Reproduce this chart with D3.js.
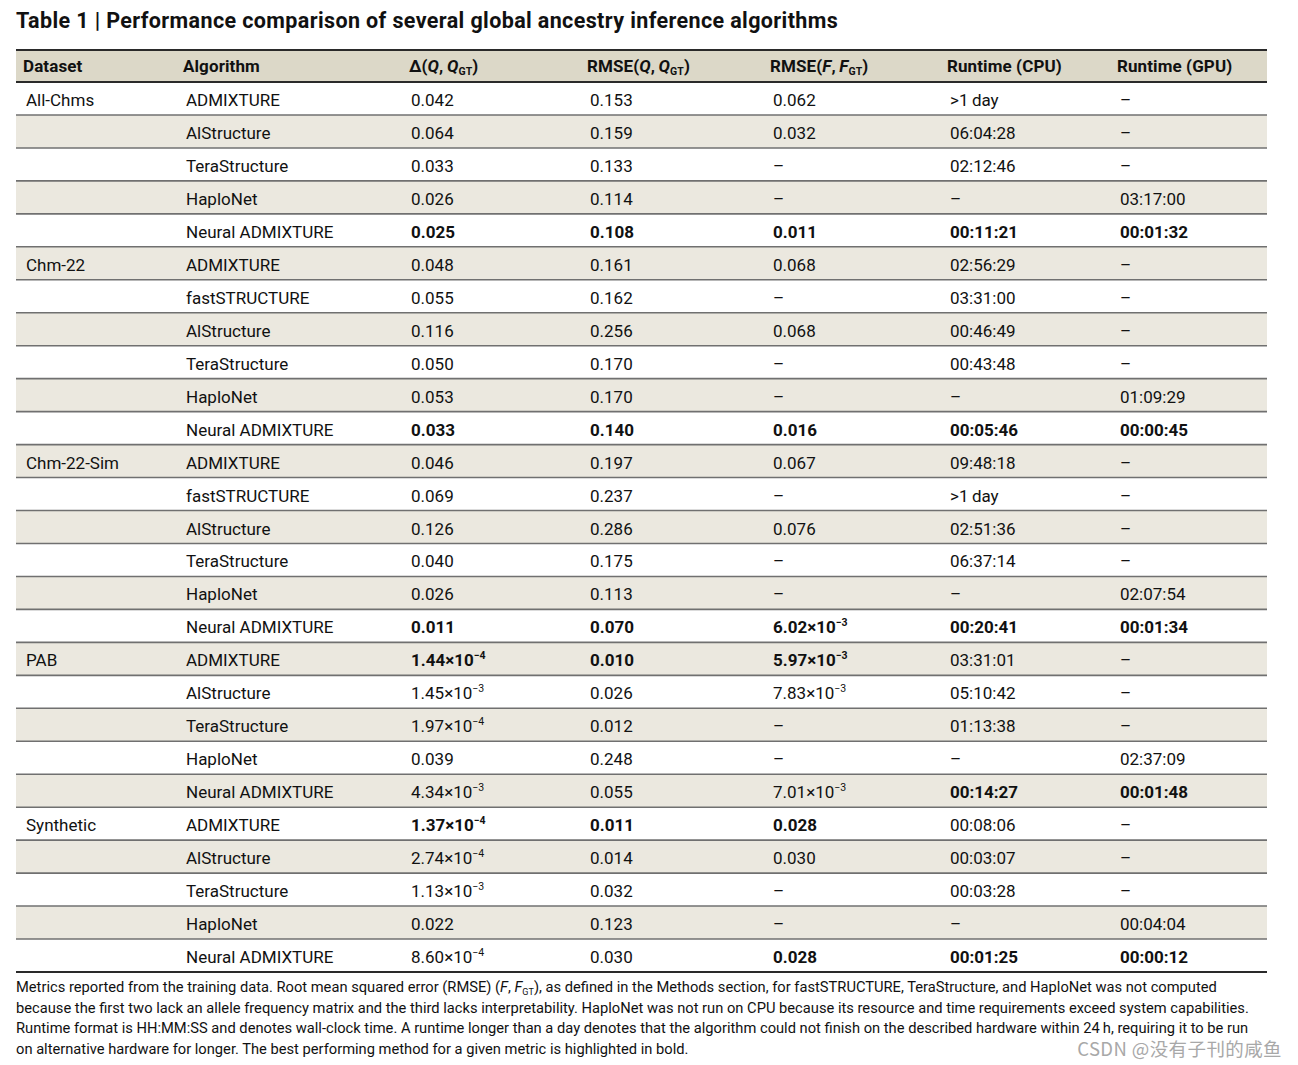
<!DOCTYPE html>
<html><head><meta charset="utf-8">
<script src="https://cdn.jsdelivr.net/npm/d3@7"></script>
<style>
html,body{margin:0;padding:0;background:#fff;}
svg{display:block;font-family:Roboto, "Noto Sans", sans-serif;}
</style></head>
<body><svg id="chart" width="1298" height="1065"></svg>
<script>
const titleText = "Table 1 | Performance comparison of several global ancestry inference algorithms";
const datasets = ["All-Chms","Chm-22","Chm-22-Sim","PAB","Synthetic"];
const rowDataset = ["All-Chms","All-Chms","All-Chms","All-Chms","All-Chms",
  "Chm-22","Chm-22","Chm-22","Chm-22","Chm-22","Chm-22",
  "Chm-22-Sim","Chm-22-Sim","Chm-22-Sim","Chm-22-Sim","Chm-22-Sim","Chm-22-Sim",
  "PAB","PAB","PAB","PAB","PAB",
  "Synthetic","Synthetic","Synthetic","Synthetic","Synthetic"];
const algorithms = ["ADMIXTURE","AlStructure","TeraStructure","HaploNet","Neural ADMIXTURE",
  "ADMIXTURE","fastSTRUCTURE","AlStructure","TeraStructure","HaploNet","Neural ADMIXTURE",
  "ADMIXTURE","fastSTRUCTURE","AlStructure","TeraStructure","HaploNet","Neural ADMIXTURE",
  "ADMIXTURE","AlStructure","TeraStructure","HaploNet","Neural ADMIXTURE",
  "ADMIXTURE","AlStructure","TeraStructure","HaploNet","Neural ADMIXTURE"];
const deltaQ = [0.042,0.064,0.033,0.026,0.025,
  0.048,0.055,0.116,0.050,0.053,0.033,
  0.046,0.069,0.126,0.040,0.026,0.011,
  1.44e-4,1.45e-3,1.97e-4,0.039,4.34e-3,
  1.37e-4,2.74e-4,1.13e-3,0.022,8.60e-4];
const rmseQ = [0.153,0.159,0.133,0.114,0.108,
  0.161,0.162,0.256,0.170,0.170,0.140,
  0.197,0.237,0.286,0.175,0.113,0.070,
  0.010,0.026,0.012,0.248,0.055,
  0.011,0.014,0.032,0.123,0.030];
const rmseF = [0.062,0.032,null,null,0.011,
  0.068,null,0.068,null,null,0.016,
  0.067,null,0.076,null,null,6.02e-3,
  5.97e-3,7.83e-3,null,null,7.01e-3,
  0.028,0.030,null,null,0.028];
const runtimeCPU = [">1 day","06:04:28","02:12:46",null,"00:11:21",
  "02:56:29","03:31:00","00:46:49","00:43:48",null,"00:05:46",
  "09:48:18",">1 day","02:51:36","06:37:14",null,"00:20:41",
  "03:31:01","05:10:42","01:13:38",null,"00:14:27",
  "00:08:06","00:03:07","00:03:28",null,"00:01:25"];
const runtimeGPU = [null,null,null,"03:17:00","00:01:32",
  null,null,null,null,"01:09:29","00:00:45",
  null,null,null,null,"02:07:54","00:01:34",
  null,null,null,"02:37:09","00:01:48",
  null,null,null,"00:04:04","00:00:12"];
const headers = ["Dataset","Algorithm","Δ(Q,QGT)","RMSE(Q,QGT)","RMSE(F,FGT)","Runtime (CPU)","Runtime (GPU)"];
const footnoteLines = [
  "Metrics reported from the training data. Root mean squared error (RMSE) (F, FGT), as defined in the Methods section, for fastSTRUCTURE, TeraStructure, and HaploNet was not computed",
  "because the first two lack an allele frequency matrix and the third lacks interpretability. HaploNet was not run on CPU because its resource and time requirements exceed system capabilities.",
  "Runtime format is HH:MM:SS and denotes wall-clock time. A runtime longer than a day denotes that the algorithm could not finish on the described hardware within 24\u2009h, requiring it to be run",
  "on alternative hardware for longer. The best performing method for a given metric is highlighted in bold."
];
const watermark = "CSDN @没有子刊的咸鱼";

const svg = d3.select("#chart");
const left = 16, right = 1267;
const headTop = 50, headBottom = 82, tableBottom = 972;

// title
svg.append("text").attr("x", 16).attr("y", 28)
  .attr("font-size", 21.5).attr("font-weight", 700).attr("fill", "#111")
  .attr("letter-spacing", 0.38)
  .text(titleText);

const cols = d3.range(7);
const xData = d3.scaleOrdinal().domain(cols).range([26,186,411,590,773,950,1120]);
const xHead = d3.scaleOrdinal().domain(cols).range([23,183,409,587,770,947,1117]);
const y = d3.scaleBand().domain(d3.range(algorithms.length)).range([headBottom, tableBottom]);

// header band
svg.append("rect").attr("x", left).attr("y", headTop).attr("width", right-left).attr("height", headBottom-headTop).attr("fill", "#dcd8c8");
// stripes
svg.append("g").selectAll("rect").data(d3.range(algorithms.length).filter(i => i % 2 === 1)).join("rect")
  .attr("x", left).attr("y", i => y(i)).attr("width", right-left).attr("height", y.bandwidth())
  .attr("fill", "#ebe8df");

// row lines
svg.append("g").selectAll("line").data(d3.range(1, algorithms.length)).join("line")
  .attr("x1", left).attr("x2", right).attr("y1", i => y(i)).attr("y2", i => y(i))
  .attr("stroke", "#707070").attr("stroke-width", 1.6);
[headTop, headBottom, tableBottom].forEach(v => {
  svg.append("line").attr("x1", left).attr("x2", right).attr("y1", v).attr("y2", v)
    .attr("stroke", "#2a2a2a").attr("stroke-width", 1.8);
});

// header text
const hy = (headTop + headBottom)/2 + 5.5;
cols.forEach(c => {
  const t = svg.append("text").attr("x", xHead(c)).attr("y", hy)
    .attr("font-size", 17).attr("font-weight", 700).attr("fill", "#111").attr("letter-spacing", 0.1);
  if (c === 2 || c === 3 || c === 4) {
    const pre = c === 2 ? "Δ(" : "RMSE(";
    const v = c === 4 ? "F" : "Q";
    t.append("tspan").text(pre);
    t.append("tspan").attr("font-style", "italic").text(v);
    t.append("tspan").text(",\u2009");
    t.append("tspan").attr("font-style", "italic").text(v);
    t.append("tspan").attr("font-size", 10.5).attr("dy", 3).text("GT");
    t.append("tspan").attr("dy", -3).text(")");
  } else {
    t.text(headers[c]);
  }
});

// format
function fmtNum(v) {
  if (v === null) return null;
  if (v < 0.01) {
    const e = Math.floor(Math.log10(v));
    const m = v / Math.pow(10, e);
    return {mant: m.toFixed(2) + "×10", exp: "−" + (-e)};
  }
  return {mant: v.toFixed(3), exp: null};
}
function toSec(s) {
  if (s === null) return Infinity;
  if (s.startsWith(">")) return 1e9;
  const p = s.split(":").map(Number);
  return p[0]*3600 + p[1]*60 + p[2];
}
function isBest(arr, i, key) {
  const ds = rowDataset[i];
  const idx = d3.range(arr.length).filter(j => rowDataset[j] === ds && arr[j] !== null);
  if (arr[i] === null) return false;
  const vals = idx.map(j => key(arr[j]));
  return key(arr[i]) === d3.min(vals);
}

const rows = svg.append("g");
algorithms.forEach((alg, i) => {
  const cy = y(i) + y.bandwidth()/2 + 7.5;
  const first = i === 0 || rowDataset[i] !== rowDataset[i-1];
  const txt = (c) => rows.append("text").attr("x", xData(c)).attr("y", cy)
      .attr("font-size", 17).attr("fill", "#111").attr("letter-spacing", 0);
  if (first) txt(0).text(rowDataset[i]);
  txt(1).text(alg);
  [[deltaQ,2],[rmseQ,3],[rmseF,4]].forEach(([arr,c]) => {
    const t = txt(c);
    const f = fmtNum(arr[i]);
    if (!f) { t.text("–"); return; }
    if (isBest(arr, i, v => v)) t.attr("font-weight", 700);
    t.append("tspan").text(f.mant);
    if (f.exp) t.append("tspan").attr("font-size", 10.5).attr("dy", -7).text(f.exp);
  });
  [[runtimeCPU,5],[runtimeGPU,6]].forEach(([arr,c]) => {
    const t = txt(c);
    const v = arr[i];
    if (v === null) { t.text("–"); return; }
    if (isBest(arr, i, toSec)) t.attr("font-weight", 700);
    t.text(v.replace(" ", "\u2009"));
  });
});

// footnote
const fn = svg.append("g");
footnoteLines.forEach((line, k) => {
  const t = fn.append("text").attr("x", 16).attr("y", 992 + k*20.5)
    .attr("font-size", 14.7).attr("fill", "#111").attr("letter-spacing", 0);
  if (k === 0) {
    const parts = line.split("(F, FGT)");
    t.append("tspan").text(parts[0] + "(");
    t.append("tspan").attr("font-style", "italic").text("F");
    t.append("tspan").text(", ");
    t.append("tspan").attr("font-style", "italic").text("F");
    t.append("tspan").attr("font-size", 9).attr("dy", 3).text("GT");
    t.append("tspan").attr("dy", -3).text(")" + parts[1]);
  } else {
    t.text(line);
  }
});

svg.append("text").attr("x", 1282).attr("y", 1056).attr("text-anchor", "end")
  .attr("font-size", 18.5).attr("fill", "#a8a8a8").attr("font-family", "'Noto Sans CJK SC', sans-serif")
  .attr("letter-spacing", 0.4)
  .text(watermark);
</script></body></html>
